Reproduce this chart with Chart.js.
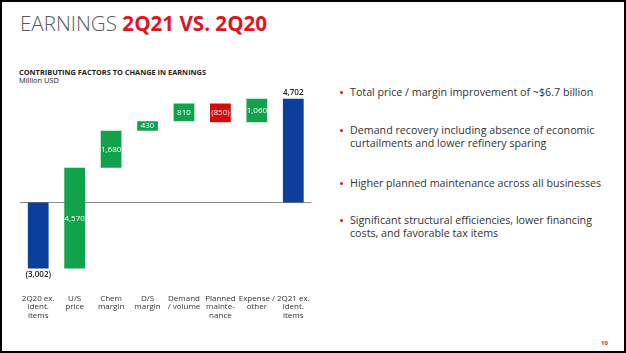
<!DOCTYPE html>
<html><head><meta charset="utf-8">
<script src="https://cdn.jsdelivr.net/npm/chart.js@4"></script>
<style>
html,body{margin:0;padding:0;background:#fff;}
#page{position:relative;width:626px;height:353px;box-sizing:border-box;border:2px solid #000;overflow:hidden;font-family:"Open Sans","Noto Sans",sans-serif;}
#title{position:absolute;left:18px;top:7px;font-size:20.6px;font-family:"Open Sans",sans-serif;white-space:nowrap;}
#title .a{color:#5a5a5a;font-weight:300;}
#title .b{color:#e0141e;font-weight:700;}
#sub{position:absolute;left:17px;top:66px;font-size:7.4px;line-height:8px;color:#222;}
#sub b{font-weight:700;}
#chartbox{position:absolute;left:-2px;top:78px;width:320px;height:250px;}
#bul{position:absolute;left:337px;top:0;width:290px;color:#333;}
.bl{position:absolute;left:0;white-space:nowrap;line-height:12.5px;font-size:10.7px;padding-left:11px;}
.bl::before{content:"";position:absolute;left:1px;top:5px;width:3px;height:3px;border-radius:50%;background:#e0141e;}
#pg{position:absolute;left:599px;top:337px;font-size:6px;color:#e0141e;font-weight:700;}
</style></head>
<body>
<div id="page">
  <div id="title"><span class="a">EARNINGS </span><span class="b">2Q21 VS. 2Q20</span></div>
  <div id="sub"><b>CONTRIBUTING FACTORS TO CHANGE IN EARNINGS</b><br>Million USD</div>
  <div id="chartbox"><canvas id="c" width="320" height="250"></canvas></div>
  <div id="bul">
    <div class="bl" style="top:84px">Total price / margin improvement of ~$6.7 billion</div>
    <div class="bl" style="top:122px">Demand recovery including absence of economic<br>curtailments and lower refinery sparing</div>
    <div class="bl" style="top:175px">Higher planned maintenance across all businesses</div>
    <div class="bl" style="top:212px">Significant structural efficiencies, lower financing<br>costs, and favorable tax items</div>
  </div>
  <div id="pg">10</div>
</div>
<script>
const categories = [["2Q20 ex.","ident.","items"],["U/S","price"],["Chem","margin"],["D/S","margin"],["Demand","/ volume"],["Planned","mainte-","nance"],["Expense /","other"],["2Q21 ex.","ident.","items"]];
const changes = [-3002, 4570, 1680, 430, 810, -850, 1060, 4702];
const valueLabels = ["(3,002)","4,570","1,680","430","810","(850)","1,060","4,702"];
const isTotal = [true,false,false,false,false,false,false,true];

const BLUE="#0c3f9c", GREEN="#12a24c", RED="#d10a0a";
let run = 0;
const floating = [];
changes.forEach((v,i)=>{
  if(i===0){ floating.push([0,v]); run=v; }
  else if(isTotal[i]){ floating.push([0,v]); }
  else { floating.push([run, run+v]); run += v; }
});
const colors = changes.map((v,i)=> isTotal[i]?BLUE:(v<0?RED:GREEN));

const labelPlugin = {
  id:'labels',
  beforeDatasetsDraw(chart){
    const {ctx, chartArea, scales:{y}} = chart;
    const y0 = Math.round(y.getPixelForValue(0))+0.5;
    ctx.save(); ctx.strokeStyle="#8c8c8c"; ctx.lineWidth=1;
    ctx.beginPath(); ctx.moveTo(chartArea.left,y0); ctx.lineTo(chartArea.right,y0); ctx.stroke(); ctx.restore();
  },
  afterDatasetsDraw(chart){
    const {ctx} = chart;
    const meta = chart.getDatasetMeta(0);
    ctx.save();
    ctx.textAlign='center'; ctx.textBaseline='middle';
    meta.data.forEach((bar,i)=>{
      const top = Math.min(bar.y, bar.base), bot = Math.max(bar.y, bar.base);
      if(isTotal[i]){
        ctx.fillStyle="#222"; ctx.font = "600 8px 'Open Sans', sans-serif";
        if(changes[i]<0) ctx.fillText(valueLabels[i], bar.x, bot+6);
        else ctx.fillText(valueLabels[i], bar.x, top-6);
      } else {
        ctx.fillStyle="#fff"; ctx.font = "8px 'Open Sans', sans-serif";
        ctx.fillText(valueLabels[i], bar.x, (top+bot)/2);
      }
    });
    ctx.restore();
  }
};

new Chart(document.getElementById('c'), {
  type:'bar',
  data:{ labels: categories, datasets:[{ data: floating, backgroundColor: colors, borderWidth:0, barPercentage:0.57, categoryPercentage:1 }]},
  options:{
    responsive:false, animation:false,
    layout:{ padding:{ left:20, right:5, top:10, bottom:0 } },
    plugins:{ legend:{display:false}, tooltip:{enabled:false} },
    scales:{
      x:{ grid:{display:false, drawTicks:false}, border:{display:false},
          ticks:{ color:"#333", font:{size:8, family:"'Open Sans', sans-serif", lineHeight:1.1}, padding:10, maxRotation:0, autoSkip:false },
          afterFit(s){ s.height = 46; } },
      y:{ display:false, min:-3700, max:5100 }
    }
  },
  plugins:[labelPlugin]
});
</script>
</body></html>
